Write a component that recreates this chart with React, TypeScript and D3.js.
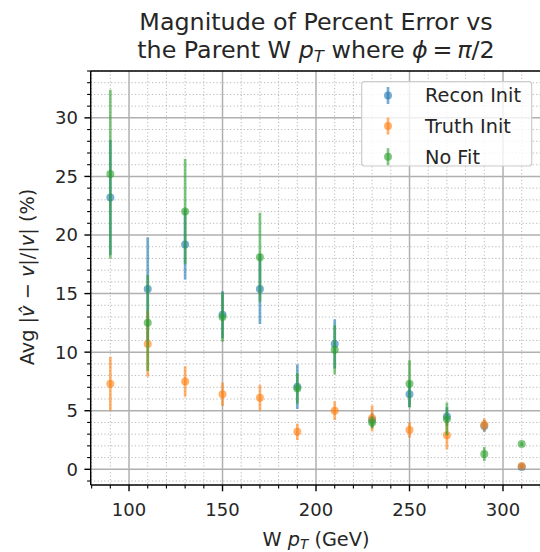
import React from "react";
import * as d3 from "d3";

const wpt = [90, 110, 130, 150, 170, 190, 210, 230, 250, 270, 290, 310];
const recon = [23.2, 15.4, 19.2, 13.2, 15.4, 7.05, 10.7, 4.2, 6.4, 4.5, 3.7, 0.2];
const reconErr = [4.9, 4.4, 3.0, 2.0, 3.0, 1.9, 2.1, 0.6, 1.1, 0.8, 0.5, 0.15];
const truth = [7.3, 10.7, 7.5, 6.4, 6.1, 3.2, 5.0, 4.35, 3.35, 2.9, 3.8, 0.28];
const truthErr = [2.3, 2.8, 1.3, 1.0, 1.1, 0.7, 0.8, 1.1, 0.65, 1.2, 0.55, 0.15];
const nofit = [25.2, 12.5, 22.0, 13.0, 18.1, 6.9, 10.2, 4.0, 7.3, 4.3, 1.3, 2.15];
const nofitErr = [7.2, 4.1, 4.5, 2.1, 3.8, 1.3, 2.1, 0.5, 2.0, 1.4, 0.6, 0.15];

const seriesNames = ["Recon Init", "Truth Init", "No Fit"];
const seriesColors = ["#1f77b4", "#ff7f0e", "#2ca02c"];
const xMajorTicks = [100, 150, 200, 250, 300];
const yMajorTicks = [0, 5, 10, 15, 20, 25, 30];

const FONT = "DejaVu Sans, sans-serif";

export default function App() {
  const W = 540, H = 552;
  const left = 90.7, right = 543.2, top = 71, bottom = 485;
  const x = d3.scaleLinear().domain([79.5, 321.5]).range([left, right]);
  const y = d3.scaleLinear().domain([-1.34, 34.0]).range([bottom, top]);

  const xMinor = d3.range(80, 330, 10).filter((v) => v % 50 !== 0 && v <= 321.5);
  const yMinor = d3.range(-1, 35, 1).filter((v) => v % 5 !== 0 && v <= 34);

  const series = [
    { vals: recon, errs: reconErr },
    { vals: truth, errs: truthErr },
    { vals: nofit, errs: nofitErr },
  ];
  const alpha = 0.6;
  const labelSize = 19.3;

  return (
    <svg
      width={W}
      height={H}
      style={{ position: "absolute", left: 0, top: 0, background: "#fff" }}
      fontFamily={FONT}
    >
      <rect x={0} y={0} width={W} height={H} fill="#fff" />
      <defs>
        <clipPath id="plotclip">
          <rect x={left} y={top} width={right - left} height={bottom - top} />
        </clipPath>
      </defs>
      {/* minor grid */}
      <g stroke="#b0b0b0" strokeWidth={1} strokeDasharray="1.2,2.2" opacity={0.9}>
        {xMinor.map((v) => (
          <line key={"xm" + v} x1={x(v)} x2={x(v)} y1={top} y2={bottom} />
        ))}
        {yMinor.map((v) => (
          <line key={"ym" + v} x1={left} x2={right} y1={y(v)} y2={y(v)} />
        ))}
      </g>
      {/* major grid */}
      <g stroke="#b0b0b0" strokeWidth={1.5}>
        {xMajorTicks.map((v) => (
          <line key={"xg" + v} x1={x(v)} x2={x(v)} y1={top} y2={bottom} />
        ))}
        {yMajorTicks.map((v) => (
          <line key={"yg" + v} x1={left} x2={right} y1={y(v)} y2={y(v)} />
        ))}
      </g>
      {/* data */}
      <g clipPath="url(#plotclip)">
        {series.map((s, si) => (
          <g key={"s" + si}>
            {s.vals.map((v, i) => (
              <g key={i}>
                <line
                  x1={x(wpt[i])}
                  x2={x(wpt[i])}
                  y1={y(v - s.errs[i])}
                  y2={y(v + s.errs[i])}
                  stroke={seriesColors[si]}
                  strokeWidth={2.7}
                  opacity={alpha}
                />
                <circle cx={x(wpt[i])} cy={y(v)} r={4} fill={seriesColors[si]} opacity={alpha} />
              </g>
            ))}
          </g>
        ))}
      </g>
      {/* spines */}
      <g stroke="#000" strokeWidth={1.4} fill="none">
        <line x1={left} x2={left} y1={top} y2={bottom} />
        <line x1={left} x2={right} y1={bottom} y2={bottom} />
        <line x1={left} x2={right} y1={top} y2={top} />
        <line x1={right} x2={right} y1={top} y2={bottom} />
      </g>
      {/* ticks */}
      <g stroke="#000" strokeWidth={1.4}>
        {xMajorTicks.map((v) => (
          <line key={"xt" + v} x1={x(v)} x2={x(v)} y1={bottom} y2={bottom + 6.3} />
        ))}
        {yMajorTicks.map((v) => (
          <line key={"yt" + v} x1={left} x2={left - 6.3} y1={y(v)} y2={y(v)} />
        ))}
      </g>
      <g stroke="#000" strokeWidth={1.1}>
        {xMinor.map((v) => (
          <line key={"xmt" + v} x1={x(v)} x2={x(v)} y1={bottom} y2={bottom + 3.6} />
        ))}
        {yMinor.map((v) => (
          <line key={"ymt" + v} x1={left} x2={left - 3.6} y1={y(v)} y2={y(v)} />
        ))}
      </g>
      {/* tick labels */}
      <g fontSize={18} fill="#262626">
        {xMajorTicks.map((v) => (
          <text key={"xl" + v} x={x(v)} y={515.5} textAnchor="middle">
            {v}
          </text>
        ))}
        {yMajorTicks.map((v) => (
          <text key={"yl" + v} x={78} y={y(v)} dy="0.36em" textAnchor="end">
            {v}
          </text>
        ))}
      </g>
      {/* axis labels */}
      <text x={316} y={545.5} fontSize={labelSize} textAnchor="middle" fill="#262626">
        W <tspan fontStyle="italic">p</tspan>
        <tspan fontStyle="italic" fontSize={13.5} dy={3.5}>T</tspan>
        <tspan dy={-3.5}> (GeV)</tspan>
      </text>
      <text
        transform={`translate(34,277) rotate(-90)`}
        fontSize={labelSize}
        textAnchor="middle"
        fill="#262626"
      >
        Avg |<tspan fontStyle="italic">{"v\u0302"}</tspan> − <tspan fontStyle="italic">v</tspan>|/|
        <tspan fontStyle="italic">v</tspan>| (%)
      </text>
      {/* title */}
      <g fontSize={23.8} fill="#262626" textAnchor="middle">
        <text x={316} y={30}>Magnitude of Percent Error vs</text>
        <text x={316} y={57.5}>
          the Parent W <tspan fontStyle="italic">p</tspan>
          <tspan fontStyle="italic" fontSize={16.5} dy={4.5}>T</tspan>
          <tspan dy={-4.5}> where </tspan>
          <tspan fontStyle="italic">ϕ</tspan>{"\u2009=\u2009"}<tspan fontStyle="italic">π</tspan>/2
        </text>
      </g>
      {/* legend */}
      <g>
        <rect
          x={361.7}
          y={81.7}
          width={170}
          height={84.3}
          rx={3}
          fill="#fff"
          fillOpacity={0.8}
          stroke="#cccccc"
          strokeWidth={1.2}
        />
        {seriesNames.map((name, i) => {
          const cy = 95.5 + i * 30.6;
          return (
            <g key={name}>
              <line
                x1={388}
                x2={388}
                y1={cy - 8.5}
                y2={cy + 8.5}
                stroke={seriesColors[i]}
                strokeWidth={2.7}
                opacity={alpha}
              />
              <circle cx={388} cy={cy} r={4} fill={seriesColors[i]} opacity={alpha} />
              <text x={425} y={cy} dy="0.36em" fontSize={labelSize} fill="#262626">
                {name}
              </text>
            </g>
          );
        })}
      </g>
    </svg>
  );
}
